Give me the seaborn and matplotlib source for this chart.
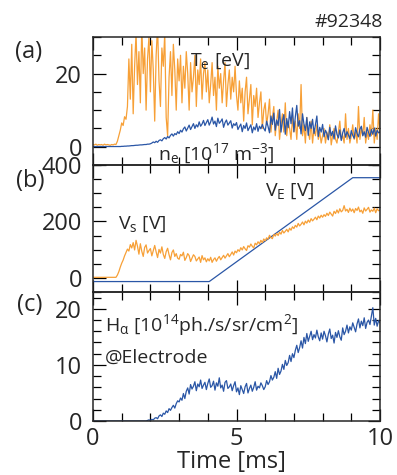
import numpy as np
import matplotlib
matplotlib.use("Agg")
import matplotlib.pyplot as plt
import seaborn as sns
from matplotlib.ticker import MultipleLocator

# time base for the sampled traces [ms], 0.05 ms per sample
time_ms = np.linspace(0.0, 10.0, 201)

# electron temperature T_e [eV]
te_ev = [
    0.6, 0.5, 0.7, 0.4, 0.6, 0.5, 0.6, 0.4, 0.7, 0.5, 0.6, 0.5, 0.4, 0.6, 0.5, 0.7, 0.6, 1.5, 3.0, 4.5,
    6.5, 5.8, 8.2, 7.5, 11, 24, 13, 28, 9, 22, 31, 17, 26, 12, 33, 20, 27, 10, 24, 30,
    15, 29, 21, 7, 25, 33, 18, 11, 27, 22, 31, 8, 3, 19, 26, 14, 28, 21, 10, 24,
    18, 25, 12, 22, 16, 26, 20, 10, 23, 15, 19, 25, 11, 21, 17, 24, 13, 20, 23, 15,
    21, 12, 17, 23, 14, 19, 10, 22, 16, 20, 12, 18, 23, 11, 17, 21, 13, 19, 15, 22,
    14, 10, 18, 12, 16, 7, 15, 19, 9, 13, 17, 6, 14, 11, 16, 8, 12, 15, 5, 10,
    12, 6, 9, 13, 4, 8, 11, 3, 7, 10, 2, 6, 9, 4, 12, 3, 7, 5, 2, 8,
    4, 7, 2, 9, 5, 17, 3, 6, 1, 8, 4, 2, 7, 1, 5, 3, 6, 2, 4, 1,
    3, 5, 1, 4, 2, 6, 0.5, 3, 5, 2, 1, 4, 7, 2, 3, 1, 9, 2, 5, 1,
    3, 6, 2, 4, 1, 11, 2, 5, 3, 8, 1, 4, 2, 6, 3, 10, 1, 5, 2, 9,
    4,
]

# electron density n_e [1e17 m^-3]
ne = [
    0.05, 0.05, 0.05, 0.05, 0.05, 0.05, 0.05, 0.05, 0.05, 0.05, 0.05, 0.05, 0.05, 0.05, 0.05, 0.05, 0.05, 0.05, 0.05, 0.05,
    0.1, 0.1, 0.15, 0.15, 0.2, 0.2, 0.25, 0.3, 0.3, 0.35, 0.4, 0.4, 0.45, 0.5, 0.5, 0.55, 0.6, 0.6, 0.7, 0.7,
    0.8, 1.0, 1.3, 1.1, 1.5, 1.2, 1.7, 1.9, 1.6, 2.2, 2.5, 2.1, 2.8, 2.4, 3.1, 3.5, 2.9, 3.6, 3.3, 4.1,
    3.6, 4.5, 4.0, 4.9, 5.4, 4.3, 5.1, 5.9, 4.7, 5.5, 6.3, 5.0, 6.0, 5.4, 6.8, 5.6, 6.2, 7.2, 5.8, 6.6,
    7.4, 5.9, 6.8, 8.1, 6.2, 7.0, 5.5, 7.8, 6.4, 6.9, 7.6, 5.3, 6.6, 7.3, 5.9, 6.5, 7.1, 5.1, 6.3, 5.8,
    6.6, 4.7, 5.5, 6.2, 4.1, 5.8, 5.0, 6.5, 4.4, 5.2, 6.0, 3.8, 5.4, 4.6, 6.3, 4.2, 5.6, 4.9, 6.1, 5.0,
    4.3, 7.0, 5.5, 3.8, 8.4, 6.1, 9.2, 4.5, 7.3, 5.8, 10.2, 4.0, 6.9, 8.8, 3.4, 7.7, 5.2, 9.6, 6.3, 10.6,
    4.1, 8.2, 11.3, 5.6, 7.1, 3.5, 9.0, 6.2, 4.4, 8.0, 3.1, 6.8, 5.0, 7.5, 3.6, 6.0, 8.4, 2.8, 5.3, 4.0,
    6.1, 2.7, 4.5, 3.6, 1.9, 5.3, 3.0, 4.2, 2.1, 5.7, 3.4, 2.4, 4.6, 1.7, 3.8, 5.0, 2.6, 4.1, 3.2, 2.2,
    4.4, 3.1, 2.3, 5.2, 3.6, 2.7, 4.8, 5.6, 3.0, 4.1, 2.6, 5.3, 3.9, 2.8, 4.7, 3.4, 5.1, 2.9, 4.5, 3.8,
    4.0,
]

# sheath / floating potential V_s [V]
vs = [
    2, 2, 2, 2, 2, 2, 2, 2, 2, 2, 2, 2, 2, 2, 2, 2, 2, 10, 22, 38,
    52, 63, 78, 90, 102, 95, 118, 106, 125, 99, 133, 112, 84, 121, 94, 76, 108, 117, 88, 97,
    104, 78, 96, 115, 92, 72, 101, 88, 110, 83, 69, 93, 105, 82, 64, 90, 99, 76, 86, 70,
    66, 83, 78, 91, 62, 72, 86, 79, 58, 70, 82, 76, 60, 67, 74, 55, 79, 64, 71, 57,
    68, 60, 73, 55, 65, 71, 59, 69, 76, 64, 72, 80, 70, 78, 86, 75, 83, 92, 81, 95,
    89, 100, 94, 107, 99, 111, 103, 97, 114, 109, 120, 112, 106, 123, 117, 128, 121, 133, 125, 138,
    131, 142, 137, 151, 143, 139, 154, 148, 158, 150, 162, 155, 168, 159, 165, 172, 163, 176, 169, 181,
    175, 186, 180, 193, 184, 190, 198, 188, 201, 194, 205, 197, 210, 202, 208, 215, 206, 219, 212, 222,
    215, 224, 218, 229, 221, 233, 226, 219, 236, 228, 241, 230, 245, 234, 239, 256, 237, 243, 232, 247,
    236, 244, 231, 246, 239, 251, 234, 240, 229, 248, 237, 243, 250, 233, 241, 236, 247, 231, 245, 238,
    240,
]

# electrode voltage V_E [V] (programmed ramp)
ve_time = [0.0, 4.05, 9.05, 10.0]
ve = [-13, -13, 355, 355]

# H-alpha emission at electrode [1e14 ph./s/sr/cm^2]
halpha = [
    0, 0, 0, 0, 0, 0, 0, 0, 0, 0, 0, 0, 0, 0, 0, 0, 0, 0, 0, 0,
    0, 0, 0, 0, 0, 0, 0, 0, 0, 0, 0, 0, 0, 0, 0, 0, 0, 0, 0.1, 0.2,
    0.1, 0.3, 0.2, 0.5, 0.6, 0.4, 0.9, 1.1, 0.8, 1.4, 1.2, 1.8, 1.5, 2.2, 1.9, 2.4, 2.8, 2.3, 3.1, 3.6,
    3.4, 4.1, 3.7, 4.9, 4.0, 5.3, 5.9, 4.8, 6.5, 5.7, 6.2, 7.0, 5.4, 6.6, 6.1, 7.3, 5.8, 6.4, 6.9, 5.6,
    6.7, 7.5, 6.0, 6.3, 7.1, 5.5, 6.8, 6.2, 7.7, 5.9, 6.4, 5.3, 6.9, 7.2, 5.8, 6.1, 6.6, 5.4, 6.3, 7.0,
    5.2, 5.9, 4.7, 6.3, 5.6, 4.9, 6.1, 6.7, 5.0, 5.8, 6.4, 5.3, 6.0, 7.0, 5.5, 6.2, 5.9, 6.8, 6.3, 5.6,
    6.1, 7.2, 6.5, 7.0, 8.1, 7.3, 7.8, 8.8, 7.6, 9.4, 8.3, 8.9, 10.1, 9.2, 10.8, 9.9, 10.4, 11.7, 10.6, 12.0,
    11.3, 12.6, 13.5, 12.2, 13.1, 14.3, 13.0, 14.9, 13.8, 15.6, 14.2, 15.1, 16.0, 14.5, 15.4, 14.8, 16.2, 15.0, 14.3, 15.7,
    14.6, 16.0, 15.2, 14.1, 15.5, 16.4, 14.7, 15.3, 13.9, 15.8, 14.9, 16.1, 15.0, 14.4, 16.6, 15.4, 16.0, 17.1, 15.7, 16.8,
    16.2, 17.5, 16.7, 15.9, 17.3, 18.2, 16.6, 17.8, 17.0, 18.4, 16.5, 17.6, 18.0, 17.2, 18.7, 20.2, 17.1, 18.3, 16.9, 17.9,
    17.5,
]

ORANGE = "#f7a037"
BLUE = "#2a56a6"

sns.set_style("ticks")
plt.rcParams["font.family"] = ["Open Sans", "DejaVu Sans"]
plt.rcParams["mathtext.fontset"] = "custom"
plt.rcParams["mathtext.rm"] = "Open Sans"
plt.rcParams["mathtext.it"] = "Open Sans"
plt.rcParams["mathtext.default"] = "regular"

FS = 17      # tick labels, axis label, panel letters
FS_ANN = 14  # in-panel annotations

fig = plt.figure(figsize=(3.97, 4.75), dpi=100)
left, width = 93 / 397, 287 / 397
tops = [37, 165, 292, 421]
axes = []
for i in range(3):
    y0 = 1 - tops[i + 1] / 475
    h = (tops[i + 1] - tops[i]) / 475
    ax = fig.add_axes([left, y0, width, h])
    ax.set_facecolor("none")
    axes.append(ax)
ax_a, ax_b, ax_c = axes

# (a) Te and ne
sns.lineplot(x=time_ms, y=te_ev, ax=ax_a, color=ORANGE, lw=0.9)
sns.lineplot(x=time_ms, y=ne, ax=ax_a, color=BLUE, lw=0.9)
ax_a.set_ylim(-5, 30)
ax_a.yaxis.set_major_locator(MultipleLocator(20))
ax_a.yaxis.set_minor_locator(MultipleLocator(5))
ax_a.text(3.38, 22, "T$_e$ [eV]", fontsize=FS_ANN, va="baseline")
ax_a.text(2.27, -3.6, "n$_e$ [10$^{17}$ m$^{-3}$]", fontsize=FS_ANN, va="baseline",
          clip_on=False, zorder=10)

# (b) VE and Vs
sns.lineplot(x=ve_time, y=ve, ax=ax_b, color=BLUE, lw=0.9)
sns.lineplot(x=time_ms, y=vs, ax=ax_b, color=ORANGE, lw=0.9)
ax_b.set_ylim(-50, 400)
ax_b.yaxis.set_major_locator(MultipleLocator(200))
ax_b.yaxis.set_minor_locator(MultipleLocator(50))
ax_b.text(5.99, 291, "V$_E$ [V]", fontsize=FS_ANN, va="baseline")
ax_b.text(0.87, 175, "V$_s$ [V]", fontsize=FS_ANN, va="baseline")

# (c) H-alpha
sns.lineplot(x=time_ms, y=halpha, ax=ax_c, color=BLUE, lw=0.9)
ax_c.set_ylim(0, 23)
ax_c.yaxis.set_major_locator(MultipleLocator(10))
ax_c.yaxis.set_minor_locator(MultipleLocator(2))
ax_c.text(0.42, 16.1, "H$_α$ [10$^{14}$ph./s/sr/cm$^2$]", fontsize=FS_ANN, va="baseline")
ax_c.text(0.42, 10.4, "@Electrode", fontsize=FS_ANN, va="baseline")

for ax in axes:
    ax.set_xlim(0, 10)
    ax.xaxis.set_major_locator(MultipleLocator(5))
    ax.xaxis.set_minor_locator(MultipleLocator(1))
    ax.tick_params(which="both", direction="in", top=True, right=True,
                   labelsize=FS, width=0.9, color="black")
    ax.tick_params(which="major", length=9)
    ax.tick_params(which="minor", length=6)
    ax.tick_params(axis="y", which="major", pad=8)
    ax.tick_params(axis="x", which="major", pad=4)
    for sp in ax.spines.values():
        sp.set_linewidth(1.1)
        sp.set_visible(True)
    ax.set_xlabel("")
    ax.set_ylabel("")
ax_a.tick_params(labelbottom=False)
ax_b.tick_params(labelbottom=False)

fig.text(29 / 397, 1 - 52 / 475, "(a)", fontsize=FS, ha="center", va="center")
fig.text(30 / 397, 1 - 181 / 475, "(b)", fontsize=FS, ha="center", va="center")
fig.text(30 / 397, 1 - 305 / 475, "(c)", fontsize=FS, ha="center", va="center")
fig.text(383 / 397, 1 - 22 / 475, "#92348", fontsize=14, ha="right", va="center")
fig.text(231 / 397, 1 - 462 / 475, "Time [ms]", fontsize=FS, ha="center", va="center")

fig.savefig("out.png", dpi=100)
plt.close(fig)
